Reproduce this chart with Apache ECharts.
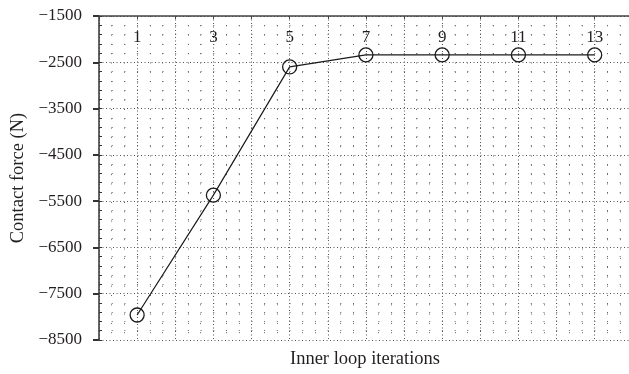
<!DOCTYPE html>
<html>
<head>
<meta charset="utf-8">
<script src="https://cdn.jsdelivr.net/npm/echarts@6/dist/echarts.min.js"></script>
<style>
  html, body { margin: 0; padding: 0; background: #fff; }
  #chart { width: 629px; height: 374px; }
</style>
</head>
<body>
<div id="chart"></div>
<script>
// inner loop iteration numbers and the contact force
var iterations = [1, 3, 5, 7, 9, 11, 13];
var contactForce = [-7960, -5370, -2600, -2340, -2340, -2340, -2340];
var xLabels = ['1', '3', '5', '7', '9', '11', '13'];

var FONT = '"Liberation Serif", "DejaVu Serif", serif';
var INK = '#231f20';

var chart = echarts.init(document.getElementById('chart'));

var points = [];
for (var i = 0; i < iterations.length; i++) {
    points.push([iterations[i], contactForce[i]]);
}

var option = {
    animation: false,
    grid: {
        left: 99,
        right: 0,
        top: 16,
        bottom: 34
    },
    xAxis: [{
        type: 'value',
        position: 'top',
        min: 0,
        max: 13.9,
        interval: 1,
        axisLine: { show: true, lineStyle: { color: '#444', width: 1.5 } },
        axisTick: { show: true, inside: true, length: 3, lineStyle: { color: '#444' } },
        axisLabel: {
            inside: true,
            margin: 13,
            fontFamily: FONT,
            fontSize: 17,
            color: INK,
            showMaxLabel: false,
            formatter: function (v) {
                return xLabels.indexOf(String(v)) >= 0 ? String(v) : '';
            }
        },
        splitLine: { show: true, lineStyle: { type: [1, 2.5], color: '#555', width: 1 } },
        minorTick: { show: false, splitNumber: 3 },
        minorSplitLine: { show: true, lineStyle: { type: [1, 8.3], color: '#666', width: 1 } }
    }, {
        type: 'value',
        position: 'bottom',
        min: 0,
        max: 13.9,
        axisLine: { show: false },
        axisTick: { show: false },
        axisLabel: { show: false },
        splitLine: { show: false }
    }],
    yAxis: [{
        type: 'value',
        min: -8500,
        max: -1500,
        interval: 1000,
        name: 'Contact force (N)',
        nameLocation: 'middle',
        nameGap: 68,
        nameTextStyle: { fontFamily: FONT, fontSize: 18.5, color: INK },
        axisLine: { show: true, lineStyle: { color: '#333', width: 1.5 } },
        axisTick: { show: true, inside: false, length: 6, lineStyle: { color: '#333', width: 2 } },
        axisLabel: {
            margin: 17,
            fontFamily: FONT,
            fontSize: 17,
            color: INK,
            formatter: function (v) { return String(v).replace('-', '\u2212'); }
        },
        splitLine: { show: true, lineStyle: { type: [1, 2.5], color: '#555', width: 1 } },
        minorTick: { show: false, splitNumber: 5 },
        minorSplitLine: { show: true, lineStyle: { type: [1, 11.7], color: '#666', width: 1 } }
    }, {
        // minor ticks pointing into the plot
        type: 'value',
        position: 'left',
        min: -8500,
        max: -1500,
        interval: 200,
        axisLine: { show: false },
        axisTick: { show: true, inside: true, length: 3, lineStyle: { color: '#333' } },
        axisLabel: { show: false },
        splitLine: { show: false }
    }],
    graphic: [{
        type: 'text',
        left: 290,
        top: 350,
        style: { text: 'Inner loop iterations', font: '18.5px ' + FONT, fill: INK }
    }],
    series: [{
        type: 'line',
        data: points,
        symbol: 'circle',
        symbolSize: 14,
        itemStyle: { color: 'none', borderColor: '#1a1a1a', borderWidth: 1.3 },
        lineStyle: { color: '#1a1a1a', width: 1.2 },
        z: 5
    }]
};

chart.setOption(option);
</script>
</body>
</html>
